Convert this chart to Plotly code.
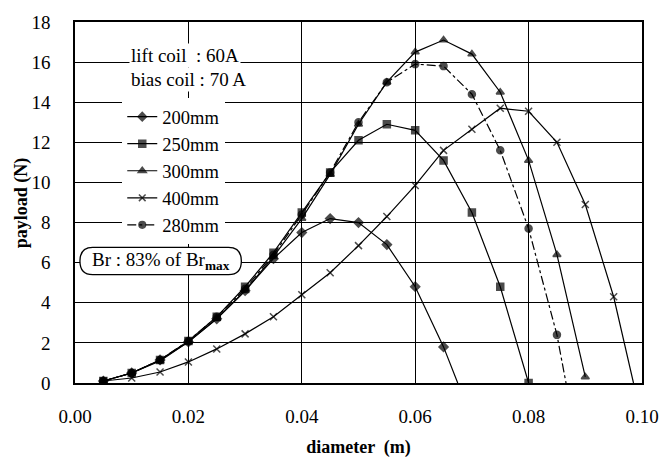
import plotly.graph_objects as go

# ---- data ----
d200_x = [0.005, 0.010, 0.015, 0.020, 0.025, 0.030, 0.035, 0.040, 0.045, 0.050, 0.055, 0.060, 0.065, 0.0675]
d200_y = [0.1, 0.5, 1.15, 2.05, 3.2, 4.6, 6.2, 7.5, 8.2, 8.0, 6.9, 4.8, 1.8, 0.0]

d250_x = [0.005, 0.010, 0.015, 0.020, 0.025, 0.030, 0.035, 0.040, 0.045, 0.050, 0.055, 0.060, 0.065, 0.070, 0.075, 0.080]
d250_y = [0.1, 0.5, 1.15, 2.1, 3.3, 4.8, 6.5, 8.5, 10.5, 12.1, 12.9, 12.6, 11.1, 8.5, 4.8, 0.0]

d300_x = [0.005, 0.010, 0.015, 0.020, 0.025, 0.030, 0.035, 0.040, 0.045, 0.050, 0.055, 0.060, 0.065, 0.070, 0.075, 0.080, 0.085, 0.090]
d300_y = [0.1, 0.5, 1.1, 2.05, 3.2, 4.6, 6.3, 8.2, 10.4, 12.9, 15.0, 16.5, 17.1, 16.4, 14.5, 11.1, 6.4, 0.3]

d400_x = [0.005, 0.010, 0.015, 0.020, 0.025, 0.030, 0.035, 0.040, 0.045, 0.050, 0.055, 0.060, 0.065, 0.070, 0.075, 0.080, 0.085, 0.090, 0.095, 0.0985]
d400_y = [0.1, 0.25, 0.55, 1.05, 1.7, 2.45, 3.3, 4.4, 5.5, 6.85, 8.3, 9.85, 11.6, 12.65, 13.7, 13.55, 12.0, 8.9, 4.3, 0.0]

d280_x = [0.005, 0.010, 0.015, 0.020, 0.025, 0.030, 0.035, 0.040, 0.045, 0.050, 0.055, 0.060, 0.065, 0.070, 0.075, 0.080, 0.085, 0.0866]
d280_y = [0.1, 0.5, 1.15, 2.1, 3.3, 4.7, 6.4, 8.4, 10.5, 13.0, 15.0, 15.9, 15.8, 14.4, 11.6, 7.7, 2.4, 0.0]

# last points of some curves are axis intercepts drawn without a marker
end_without_marker = {"200mm": True, "250mm": False, "300mm": False, "400mm": True, "280mm": True}

x_ticks = [0.00, 0.02, 0.04, 0.06, 0.08, 0.10]
y_ticks = [0, 2, 4, 6, 8, 10, 12, 14, 16, 18]

FONT = "Liberation Serif"

series = [
    ("200mm", d200_x, d200_y, "diamond", 7, "solid"),
    ("250mm", d250_x, d250_y, "square", 7, "solid"),
    ("300mm", d300_x, d300_y, "triangle-up", 7, "solid"),
    ("400mm", d400_x, d400_y, "x-thin", 7, "solid"),
    ("280mm", d280_x, d280_y, "circle", 7, "dashdot"),
]

fig = go.Figure()
for name, xs, ys, sym, sz, dash in series:
    sizes = [sz] * len(xs)
    if end_without_marker[name]:
        sizes[-1] = 0
    fig.add_trace(go.Scatter(
        x=xs, y=ys, name=name, mode="lines+markers",
        line=dict(color="black", width=1.2, dash=dash),
        marker=dict(symbol=sym, size=sizes, color="black",
                    line=dict(color="black", width=1.5)),
    ))

# plot area geometry (pixels) for placing annotation boxes
L, R, T, B = 75, 20, 15, 81
W, H = 671, 466
PW, PH = W - L - R, H - T - B


def px(xp):
    return (xp - L) / PW


def py(yp):
    return (H - B - yp) / PH


fig.add_annotation(text="lift coil  : 60A", xref="paper", yref="paper",
                   x=px(130), y=py(49), xanchor="left", yanchor="middle",
                   showarrow=False, bgcolor="white",
                   font=dict(family=FONT, size=19, color="black"))
fig.add_annotation(text="bias coil : 70 A", xref="paper", yref="paper",
                   x=px(130), y=py(74), xanchor="left", yanchor="middle",
                   showarrow=False, bgcolor="white",
                   font=dict(family=FONT, size=19, color="black"))

# rounded box for the Br note
x0, x1, y0, y1, r = 80, 244, 246, 274, 13
path = (f"M {px(x0 + r)},{py(y0)} L {px(x1 - r)},{py(y0)} "
        f"Q {px(x1)},{py(y0)} {px(x1)},{py((y0 + y1) / 2)} "
        f"Q {px(x1)},{py(y1)} {px(x1 - r)},{py(y1)} "
        f"L {px(x0 + r)},{py(y1)} "
        f"Q {px(x0)},{py(y1)} {px(x0)},{py((y0 + y1) / 2)} "
        f"Q {px(x0)},{py(y0)} {px(x0 + r)},{py(y0)} Z")
fig.add_shape(type="path", path=path, xref="paper", yref="paper",
              fillcolor="white", line=dict(color="black", width=1.3), layer="above")
fig.add_annotation(text="Br : 83% of Br<sub><b>max</b></sub>", xref="paper", yref="paper",
                   x=px(162), y=py(260), xanchor="center", yanchor="middle",
                   showarrow=False,
                   font=dict(family=FONT, size=19, color="black"))

# y-axis title placed close to the tick labels, as in the reference
fig.add_annotation(text="<b>payload (N)</b>", xref="paper", yref="paper",
                   x=px(21), y=0.5, xanchor="center", yanchor="middle",
                   textangle=-90, showarrow=False,
                   font=dict(family=FONT, size=18, color="black"))

fig.update_layout(
    width=W, height=H,
    margin=dict(l=L, r=R, t=T, b=B),
    paper_bgcolor="white", plot_bgcolor="white",
    font=dict(family=FONT, size=19, color="black"),
    showlegend=True,
    legend=dict(x=px(123), y=py(93), xanchor="left", yanchor="top",
                bgcolor="white", borderwidth=0, tracegroupgap=0,
                font=dict(family=FONT, size=18.5, color="black"),
                itemwidth=30),
)
fig.update_xaxes(range=[0, 0.1], tickvals=x_ticks, tickformat=".2f",
                 showgrid=True, gridcolor="black", gridwidth=1,
                 showline=True, linecolor="black", linewidth=1.5, mirror=True,
                 zeroline=False, ticks="", ticklabelstandoff=15,
                 tickfont=dict(family=FONT, size=19),
                 title=dict(text="<b>diameter  (m)</b>", standoff=15,
                            font=dict(family=FONT, size=18)))
fig.update_yaxes(range=[0, 18], tickvals=y_ticks,
                 showgrid=True, gridcolor="black", gridwidth=1,
                 showline=True, linecolor="black", linewidth=1.5, mirror=True,
                 zeroline=False, ticks="", ticklabelstandoff=19,
                 tickfont=dict(family=FONT, size=19))

fig.write_html("out.html", config={"displayModeBar": False},
               post_script="document.body.style.margin='0';document.body.style.overflow='hidden';")
